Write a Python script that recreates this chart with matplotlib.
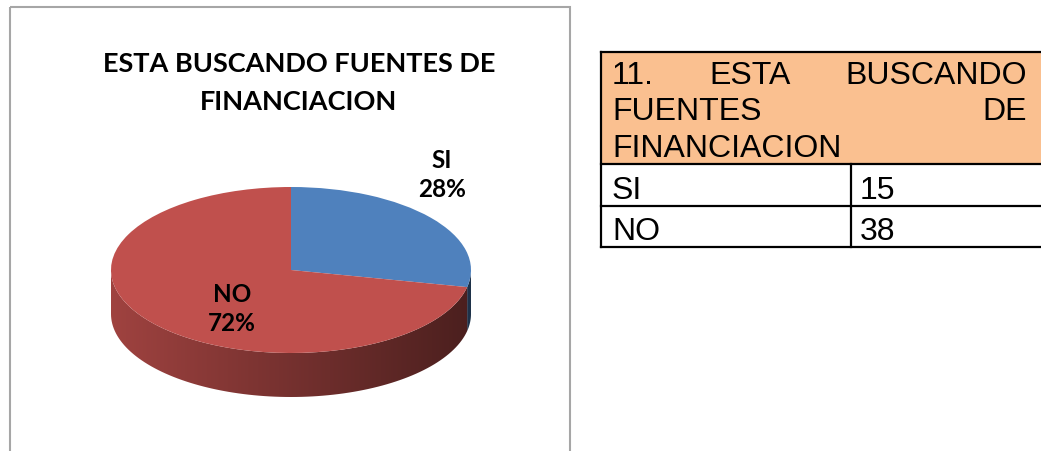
import numpy as np
import matplotlib
matplotlib.use("Agg")
import matplotlib.pyplot as plt
from matplotlib.patches import Wedge, Polygon, Rectangle
from matplotlib.transforms import Affine2D
from matplotlib.colors import to_rgb

# data
categories = ["SI", "NO"]
counts = [15, 38]
slice_colors = ["#4F81BD", "#C0504D"]
chart_title = ["ESTA BUSCANDO FUENTES DE", "FINANCIACION"]
table_header = ["11. ESTA BUSCANDO", "FUENTES DE", "FINANCIACION"]

fig = plt.figure(figsize=(10.41, 4.52), dpi=100)
ax = fig.add_axes([0, 0, 1, 1])
ax.set_xlim(0, 1041)
ax.set_ylim(452, 0)
ax.axis("off")

# chart frame
ax.add_patch(Rectangle((9.5, 7.5), 560, 470, fill=False, ec="#a6a6a6", lw=1.5))

for line, y in zip(chart_title, [72, 110]):
    ax.text(299, y, line, ha="center", va="baseline", fontsize=19.5,
            fontweight="bold", family="Lato")

# 3d pie: ellipse top + extruded front side
cx, cy, rx, ry, depth = 291, 271, 180, 83, 44
fracs = np.array(counts) / sum(counts)
start = -90.0  # 12 o'clock, going clockwise on screen (y axis inverted)
angles = []
for f in fracs:
    angles.append((start, start + 360 * f))
    start += 360 * f

xs = np.linspace(cx - rx, cx + rx, 256)
shade = 0.83 - 0.44 * (xs - xs[0]) / (xs[-1] - xs[0])
for (a0, a1), col in zip(angles, slice_colors):
    lo, hi = max(a0, 0), min(a1, 180)
    if hi <= lo:
        continue
    t = np.radians(np.linspace(lo, hi, 100))
    top = np.column_stack([cx + rx * np.cos(t), cy + ry * np.sin(t)])
    bot = top[::-1] + [0, depth]
    poly = Polygon(np.vstack([top, bot]), closed=True, fc="none", ec="none")
    ax.add_patch(poly)
    img = np.array(to_rgb(col))[None, None, :] * shade[None, :, None]
    im = ax.imshow(img, extent=(cx - rx, cx + rx, cy + ry + depth, cy - ry),
                   aspect="auto", interpolation="bilinear", zorder=1)
    im.set_clip_path(poly)

tr = Affine2D().scale(rx, ry).translate(cx, cy) + ax.transData
for (a0, a1), col in zip(angles, slice_colors):
    ax.add_patch(Wedge((0, 0), 1, a0, a1, fc=col, ec="none", transform=tr, zorder=2))

label_pos = [(442, 175), (232, 309)]
for cat, f, (lx, ly) in zip(categories, fracs, label_pos):
    ax.text(lx, ly, f"{cat}\n{f * 100:.0f}%", ha="center", va="center",
            fontsize=17.5, fontweight="bold", family="Lato", linespacing=1.3, zorder=3)

ax.set_xlim(0, 1041)
ax.set_ylim(452, 0)

# table
tx0, tsplit, tx1 = 601, 851, 1045
ty = [53, 165, 207, 248]
ax.add_patch(Rectangle((tx0, ty[0]), tx1 - tx0, ty[1] - ty[0], fc="#FAC090", ec="none"))
for y in ty:
    ax.plot([tx0, tx1], [y, y], color="black", lw=1.6)
ax.plot([tx0, tx0], [ty[0], ty[-1]], color="black", lw=1.6)
ax.plot([tsplit, tsplit], [ty[1], ty[-1]], color="black", lw=1.6)

tfont = dict(fontsize=23, family="Liberation Sans", va="baseline")
renderer = fig.canvas.get_renderer()
line_y = [83.5, 120, 157]
for line, y in zip(table_header, line_y):
    words = line.split()
    texts = [ax.text(0, y, w, ha="left", **tfont) for w in words]
    widths = [t.get_window_extent(renderer).width for t in texts]
    if len(words) == 1:
        texts[0].set_x(612)
        continue
    gap = (1027 - 612 - sum(widths)) / (len(words) - 1)
    x = 612
    for t, w in zip(texts, widths):
        t.set_x(x)
        x += w + gap

row_y = [199, 240]
for cat, n, y in zip(categories, counts, row_y):
    ax.text(612, y, cat, ha="left", **tfont)
    ax.text(860, y, str(n), ha="left", **tfont)

fig.savefig("out.png", dpi=100)
